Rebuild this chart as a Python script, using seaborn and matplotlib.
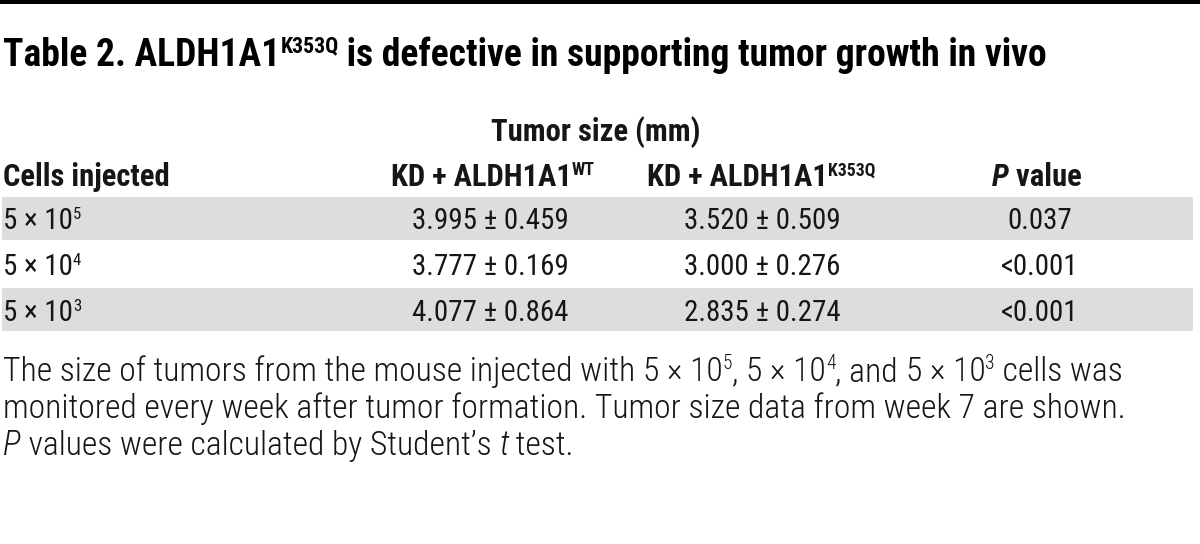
import numpy as np
import pandas as pd
import matplotlib
matplotlib.use("Agg")
import matplotlib.pyplot as plt
from matplotlib.colors import ListedColormap
from matplotlib import font_manager as fm
import seaborn as sns

# ---------------- data ----------------
title_main = "Table 2. ALDH1A1"
title_sup = "K353Q"
title_rest = " is defective in supporting tumor growth in vivo"
group_header = "Tumor size (mm)"
header_cells = "Cells injected"
header_wt = ("KD + ALDH1A1", "WT")
header_mut = ("KD + ALDH1A1", "K353Q")
header_p = ("P", " value")
cells_base = [5, 5, 5]
cells_exp = [5, 4, 3]
wt_mean = [3.995, 3.777, 4.077]
wt_sd = [0.459, 0.169, 0.864]
mut_mean = [3.520, 3.000, 2.835]
mut_sd = [0.509, 0.276, 0.274]
p_values = ["0.037", "<0.001", "<0.001"]
row_shade = [1, 0, 1]
foot_line2 = "monitored every week after tumor formation. Tumor size data from week 7 are shown."
foot_line3 = ("P", " values were calculated by Student\u2019s ", "t", " test.")

# ---------------- fonts ----------------
sns.set_theme(style="white")
names = {f.name for f in fm.fontManager.ttflist}
FONT = "DejaVu Sans"
for cand in ["Roboto Condensed", "Liberation Sans Narrow", "Open Sans Condensed", "Noto Sans"]:
    if cand in names:
        FONT = cand
        break
plt.rcParams["font.family"] = [FONT, "DejaVu Sans"]

TXT = "#161616"
BAND = "#dcdddf"

fig = plt.figure(figsize=(12, 5.44), dpi=100)

# row shading drawn as a heatmap
band_ax = fig.add_axes([0, 1 - 332 / 544, 1194 / 1200, 137 / 544])
sns.heatmap(pd.DataFrame({"shade": row_shade}), cmap=ListedColormap(["#ffffff", BAND]),
            vmin=0, vmax=1, cbar=False, ax=band_ax, xticklabels=False, yticklabels=False,
            linewidths=0.8, linecolor="#ffffff")
band_ax.set_xlabel("")
band_ax.set_ylabel("")

# text layer in pixel coordinates
ax = fig.add_axes([0, 0, 1, 1])
ax.set_xlim(0, 1200)
ax.set_ylim(544, 0)
ax.axis("off")
ax.patch.set_alpha(0)
ax.axhspan(0, 4, color="black", lw=0)

renderer = fig.canvas.get_renderer()
PX = 100 / 72.0


def advance(txt, **kw):
    a = ax.text(0, 0, "|" + txt + "|", **kw)
    b = ax.text(0, 0, "||", **kw)
    w = a.get_window_extent(renderer).width - b.get_window_extent(renderer).width
    a.remove()
    b.remove()
    return w


def pieces(x, y, segs, size, ha="left", weight="normal", color=TXT, sup_scale=0.58):
    """segs: list of (text, kind) with kind in 'n', 'sup', 'it'."""
    laid = []
    cur = 0.0
    for txt, kind in segs:
        fs = size * sup_scale if kind == "sup" else size
        kw = dict(fontsize=fs, fontweight=weight,
                  fontstyle="italic" if kind == "it" else "normal", color=color)
        w = advance(txt, **kw)
        dy = -size * PX * 0.35 if kind == "sup" else 0.0
        laid.append((txt, kw, cur, dy))
        cur += w
    start = x if ha == "left" else x - cur / 2.0
    for txt, kw, off, dy in laid:
        ax.text(start + off, y + dy, txt, ha="left", va="baseline", **kw)
    return cur


def fit_size(segs, width, weight="normal", base=20.0):
    w = 0.0
    for txt, kind in segs:
        fs = base * 0.58 if kind == "sup" else base
        w += advance(txt, fontsize=fs, fontweight=weight,
                     fontstyle="italic" if kind == "it" else "normal")
    return base * width / w


def cells_segs(i):
    return [(f"{cells_base[i]} \u00d7 10", "n"), (str(cells_exp[i]), "sup")]


# title
tsegs = [(title_main, "n"), (title_sup, "sup"), (title_rest, "n")]
tsize = fit_size(tsegs, 1042, weight="bold")
pieces(3, 66, tsegs, tsize, weight="bold", color="black")

# headers
hsize = fit_size([(header_cells, "n")], 154, weight="bold") * 1.08
pieces(3, 186, [(header_cells, "n")], hsize, weight="bold")
pieces(596, 141, [(group_header, "n")], hsize, ha="center", weight="bold")
pieces(493, 186, [(header_wt[0], "n"), (header_wt[1], "sup")], hsize, ha="center", weight="bold")
pieces(761, 186, [(header_mut[0], "n"), (header_mut[1], "sup")], hsize, ha="center", weight="bold")
pieces(1037, 186, [(header_p[0], "it"), (header_p[1], "n")], hsize, ha="center", weight="bold")

# body
baselines = [229, 275, 321]
bsize = fit_size([(f"{wt_mean[0]:.3f} \u00b1 {wt_sd[0]:.3f}", "n")], 145) * 1.08
for i, yb in enumerate(baselines):
    pieces(3, yb, cells_segs(i), bsize)
    pieces(490, yb, [(f"{wt_mean[i]:.3f} \u00b1 {wt_sd[i]:.3f}", "n")], bsize, ha="center")
    pieces(762, yb, [(f"{mut_mean[i]:.3f} \u00b1 {mut_sd[i]:.3f}", "n")], bsize, ha="center")
    pieces(1040, yb, [(p_values[i], "n")], bsize, ha="center")

# footnote
FW = "light"
line1 = [("The size of tumors from the mouse injected with ", "n")]
line1 += cells_segs(0) + [(", ", "n")] + cells_segs(1) + [(", and ", "n")]
line1 += cells_segs(2) + [(" cells was", "n")]
fsize = fit_size(line1, 1119, weight=FW)
pieces(3, 381, line1, fsize, weight=FW)
pieces(3, 418, [(foot_line2, "n")], fsize, weight=FW)
pieces(3, 455, [(foot_line3[0], "it"), (foot_line3[1], "n"), (foot_line3[2], "it"),
                (foot_line3[3], "n")], fsize, weight=FW)

fig.savefig("out.png", dpi=100, facecolor="white")
